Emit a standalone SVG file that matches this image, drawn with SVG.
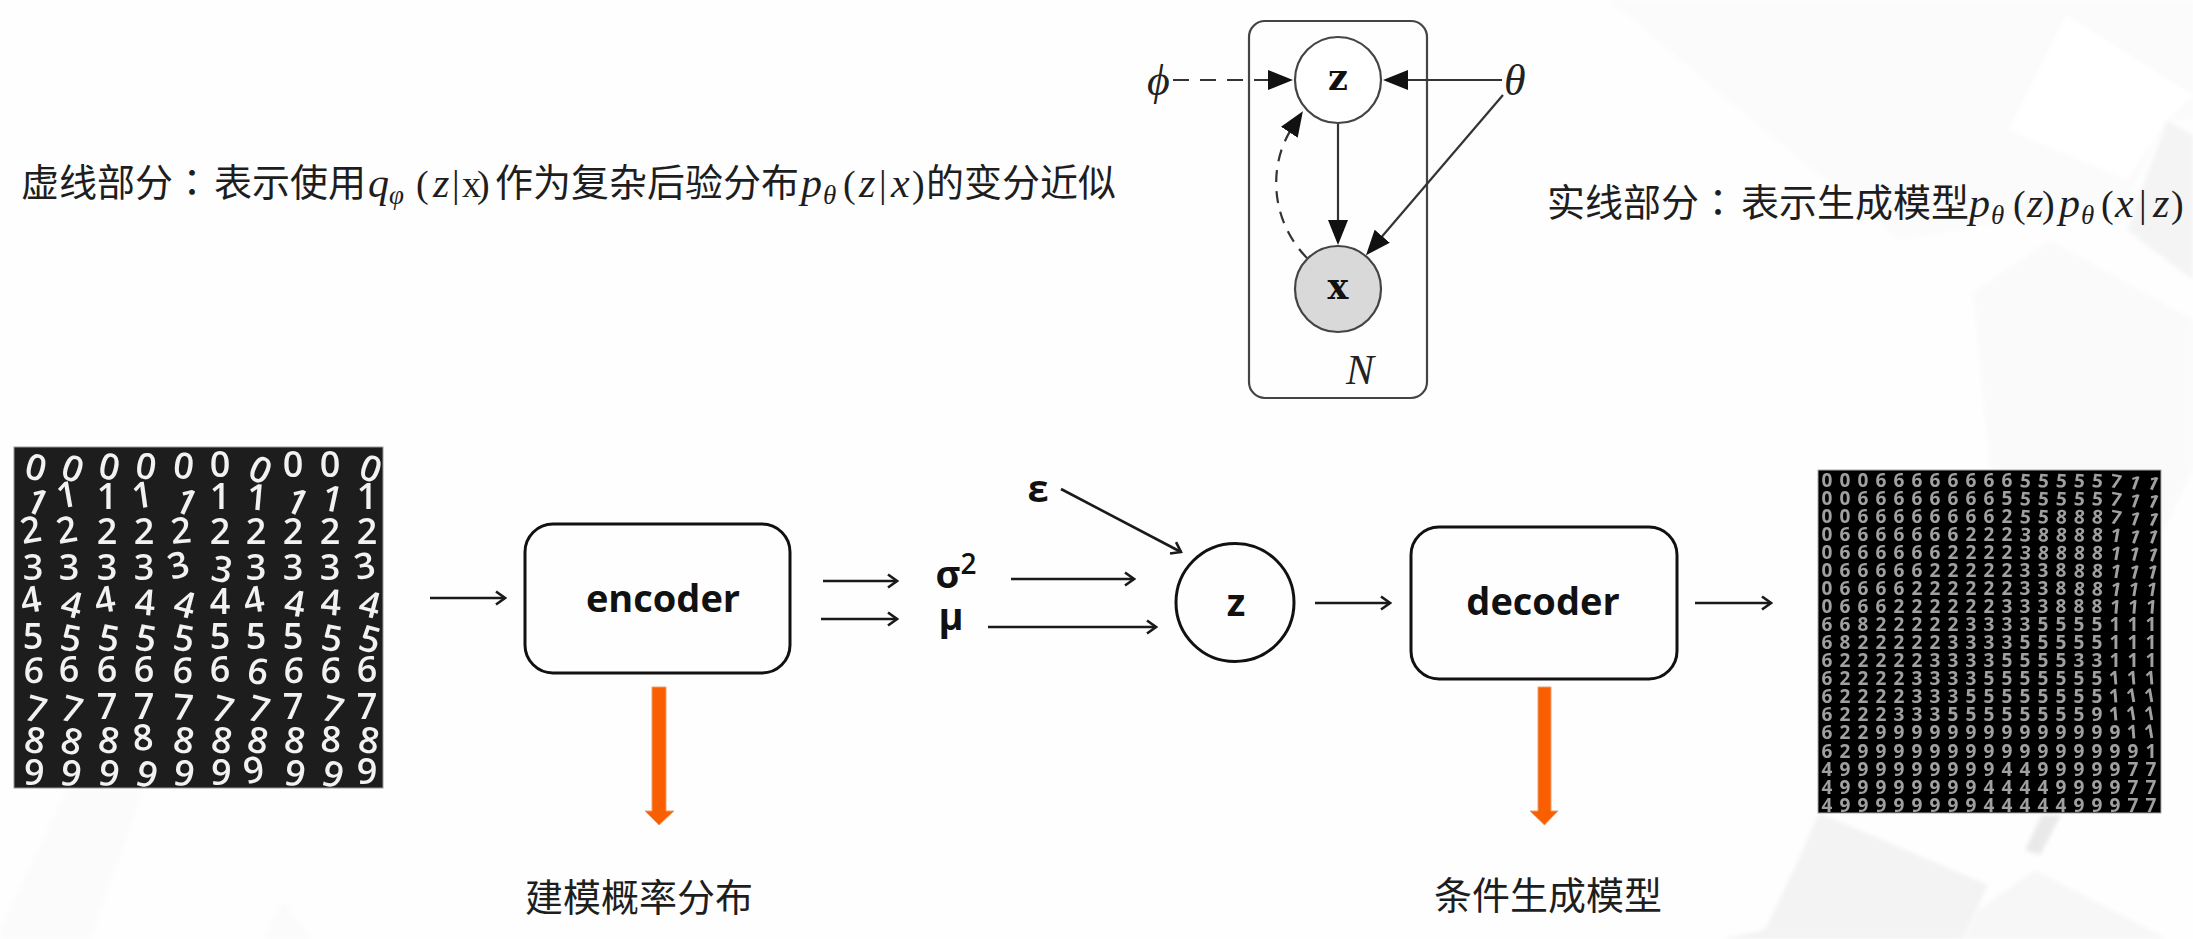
<svg xmlns="http://www.w3.org/2000/svg" width="2193" height="939" viewBox="0 0 2193 939">
<style>
.cn{font-family:"Noto Sans CJK SC","Noto Sans",sans-serif;font-size:38px;fill:#1e1e1e}
.tc{font-family:"Noto Sans CJK TC","Noto Sans",sans-serif}
.m{font-family:"Liberation Serif",serif;font-style:italic;font-size:42px;fill:#1e1e1e}
.mu{font-family:"Liberation Serif",serif;font-size:38px;fill:#1e1e1e}
.ms{font-family:"Liberation Serif",serif;font-style:italic;font-size:27px;fill:#1e1e1e}
.g{font-family:"Liberation Serif",serif;font-style:italic;fill:#222}
.gb{font-family:"DejaVu Serif",serif;font-weight:700;font-size:35px;fill:#111;text-anchor:middle}
.b{font-family:"Open Sans",sans-serif;font-weight:700;font-size:38px;fill:#111;text-anchor:middle}
.l{font-family:"Open Sans",sans-serif;font-weight:600;font-size:36px;fill:#f2f2f2;text-anchor:middle}
.r{font-family:"Open Sans",sans-serif;font-weight:700;font-size:19px;fill:#a0a0a0;letter-spacing:7.13px}
.box{fill:none;stroke:#111;stroke-width:3}
.pn{fill:#fff;stroke:#444;stroke-width:2.2}
.e{fill:none;stroke:#333;stroke-width:2.2}
.a{fill:none;stroke:#1a1a1a;stroke-width:2.6;marker-end:url(#ch)}
.or{fill:#f95f00;stroke:#e9a070;stroke-width:1}
</style>
<defs>
<marker id="tri" markerUnits="userSpaceOnUse" viewBox="0 0 25 20" markerWidth="25" markerHeight="20" refX="5" refY="10" orient="auto"><path d="M0 0L25 10L0 20Z" fill="#111"/></marker>
<marker id="ch" markerUnits="userSpaceOnUse" viewBox="-12 -8 14 16" markerWidth="14" markerHeight="16" refX="0" refY="0" orient="auto"><path d="M-9 -6.5L0 0L-9 6.5" fill="none" stroke="#1a1a1a" stroke-width="2.6"/></marker>
<filter id="soft" x="-2%" y="-2%" width="104%" height="104%"><feGaussianBlur stdDeviation="0.6"/></filter>
<filter id="bgsoft"><feGaussianBlur stdDeviation="2"/></filter>
</defs>
<rect width="2193" height="939" fill="#fefefe"/>
<g id="background" filter="url(#bgsoft)">
<polygon fill="#fbfbfb" points="1610,0 2193,0 2193,120 2167,120 2127,200 1900,240 1740,110"/>
<polygon fill="#ffffff" points="2066,15 2193,95 2167,120 2127,180 2008,130"/>
<polygon fill="#f4f4f4" points="2167,120 2193,135 2193,280 2127,230"/>
<polygon fill="#fafafa" points="1973,293 2050,240 2193,320 2193,470 2130,600 1990,470"/>
<polygon fill="#f3f3f3" points="1819,813 1988,885 1963,939 1721,939 1765,930 1797,863"/>
<polygon fill="#f7f7f7" points="2035,870 2167,939 1965,939 1978,910"/>
<polygon fill="#e9e9e9" points="2042,815 2061,815 2040,855 2025,850"/>
<polygon fill="#fbfbfb" points="0,930 67,790 143,790 90,939 0,939"/>
<polygon fill="#fbfbfb" points="283,902 263,939 313,939"/>
</g>
<g id="caption-left">
<text class="cn" x="21" y="196">虚线部分<tspan class="tc">&#xFF1A;</tspan><tspan x="214">表示使用</tspan></text>
<text class="m" x="368" y="197">q</text><text class="ms" x="389" y="204">φ</text>
<text class="mu" x="416" y="197">(</text><text class="m" x="433" y="197">z</text><text class="mu" x="452" y="197">|</text><text class="mu" x="462" y="197">x</text><text class="mu" x="477" y="197">)</text>
<text class="cn" x="495" y="196">作为复杂后验分布</text>
<text class="m" x="801" y="197">p</text><text class="ms" x="823" y="204">θ</text>
<text class="mu" x="843" y="197">(</text><text class="m" x="859" y="197">z</text><text class="mu" x="879" y="197">|</text><text class="m" x="891" y="197">x</text><text class="mu" x="912" y="197">)</text>
<text class="cn" x="926" y="196">的变分近似</text>
</g>
<g id="caption-right">
<text class="cn" x="1547" y="216">实线部分<tspan class="tc">&#xFF1A;</tspan><tspan x="1741">表示生成模型</tspan></text>
<text class="m" x="1969" y="217">p</text><text class="ms" x="1991" y="224">θ</text>
<text class="mu" x="2013" y="217">(</text><text class="m" x="2027" y="217">z</text><text class="mu" x="2042" y="217">)</text>
<text class="m" x="2059" y="217">p</text><text class="ms" x="2081" y="224">θ</text>
<text class="mu" x="2101" y="217">(</text><text class="m" x="2115" y="217">x</text><text class="mu" x="2139" y="217">|</text><text class="m" x="2153" y="217">z</text><text class="mu" x="2171" y="217">)</text>
</g>
<g id="plate"><rect x="1249" y="21" width="178" height="377" rx="16" fill="none" stroke="#444" stroke-width="2.2"/><text class="g" x="1346" y="384" font-size="42">N</text></g>
<g id="connectors">
<path class="e" d="M1173 80H1273" stroke-dasharray="16 11" marker-end="url(#tri)"/>
<path class="e" d="M1502 80H1403" marker-end="url(#tri)"/>
<path class="e" d="M1338 123V225" marker-end="url(#tri)"/>
<path class="e" d="M1503 95L1379 240" marker-end="url(#tri)"/>
<path class="e" d="M1307 258C1270 220 1268 165 1292 128" stroke-dasharray="12 9" marker-end="url(#tri)"/>
<path class="a" d="M430 598H505"/>
<path class="a" d="M823 581H897"/>
<path class="a" d="M821 619H897"/>
<path class="a" d="M1011 579H1134"/>
<path class="a" d="M988 627H1156"/>
<path class="a" d="M1061 489L1181 552"/>
<path class="a" d="M1315 603H1390"/>
<path class="a" d="M1695 603H1771"/>
<polygon class="or" points="652,687 666,687 666,811 674,811 659,825 645,811 652,811"/>
<polygon class="or" points="1538,687 1551,687 1551,811 1558,811 1544.5,825 1530,811 1538,811"/>
</g>
<g id="node-phi"><text class="g" x="1147" y="95" font-size="44">ϕ</text></g>
<g id="node-theta"><text class="g" x="1504" y="95" font-size="44">θ</text></g>
<g id="node-z-graph"><circle class="pn" cx="1338" cy="80" r="43"/><text class="gb" x="1338" y="90">z</text></g>
<g id="node-x-graph"><circle class="pn" cx="1338" cy="289" r="43" style="fill:#d9d9d9"/><text class="gb" x="1338" y="299">x</text></g>
<g id="node-encoder"><rect class="box" x="525" y="524" width="265" height="149" rx="28"/><text class="b" x="663" y="612">encoder</text></g>
<g id="node-decoder"><rect class="box" x="1411" y="527" width="266" height="152" rx="28"/><text class="b" x="1543" y="615">decoder</text></g>
<g id="node-z"><ellipse class="box" cx="1235" cy="602.5" rx="59" ry="59"/><text class="b" x="1236" y="616">z</text></g>
<g id="node-sigma"><text class="b" x="956" y="588">σ<tspan font-size="28" dy="-14" font-weight="600">2</tspan></text></g>
<g id="node-mu"><text class="b" x="951" y="630">μ</text></g>
<g id="node-eps"><text class="b" x="1038" y="502">ε</text></g>
<g id="label-encoder"><text class="cn" x="525" y="911">建模概率分布</text></g>
<g id="label-decoder"><text class="cn" x="1434" y="909">条件生成模型</text></g>
<g id="mnist-input">
<rect x="14" y="447" width="369" height="341" fill="#1d1d1d" stroke="#999" stroke-width="1"/>
<g filter="url(#soft)">
<text class="l" x="33 69 107 144 182 220 256 293 330 367" y="477" rotate="15 20 12 10 8 0 25 0 0 20">0000000000</text>
<text class="l" x="33 69 107 144 182 220 256 293 330 367" y="509" rotate="25 -10 0 -8 25 0 5 25 12 0">1111111111</text>
<text class="l" x="33 69 107 144 182 220 256 293 330 367" y="544" rotate="-10 -10 0 0 -5 0 0 0 0 0">2222222222</text>
<text class="l" x="33 69 107 144 182 220 256 293 330 367" y="580" rotate="0 0 0 0 -15 10 0 0 0 -10">3333333333</text>
<text class="l" x="33 69 107 144 182 220 256 293 330 367" y="614" rotate="-10 15 -10 5 15 0 -10 10 5 15">4444444444</text>
<text class="l" x="33 69 107 144 182 220 256 293 330 367" y="649" rotate="0 10 10 10 10 0 0 0 10 15">5555555555</text>
<text class="l" x="33 69 107 144 182 220 256 293 330 367" y="682" rotate="5 0 0 0 5 0 10 5 5 0">6666666666</text>
<text class="l" x="33 69 107 144 182 220 256 293 330 367" y="719" rotate="15 15 0 0 5 15 15 0 15 0">7777777777</text>
<text class="l" x="33 69 107 144 182 220 256 293 330 367" y="751" rotate="10 15 10 -5 10 10 10 10 5 10">8888888888</text>
<text class="l" x="33 69 107 144 182 220 256 293 330 367" y="784" rotate="5 10 10 15 10 5 -10 10 15 0">9999999999</text>
</g>
</g>
<g id="mnist-output">
<rect x="1818" y="470" width="343" height="343" fill="#000" stroke="#aaa" stroke-width="1"/>
<g filter="url(#soft)">
<text class="r" x="1821.6" y="487" rotate="0 0 0 0 0 0 0 0 0 0 0 5 5 5 5 5 10 20 25">0006666666655555711</text>
<text class="r" x="1821.6" y="505" rotate="0 0 0 0 0 0 0 0 0 0 0 5 5 5 5 5 10 20 25">0066666666555555711</text>
<text class="r" x="1821.6" y="523" rotate="0 0 0 0 0 0 0 0 0 0 0 5 5 5 5 5 10 20 25">0066666666255888711</text>
<text class="r" x="1821.6" y="541" rotate="0 0 0 0 0 0 0 0 0 0 0 5 5 5 5 5 10 20 20">0666666622238888111</text>
<text class="r" x="1821.6" y="559" rotate="0 0 0 0 0 0 0 0 0 0 0 5 5 5 5 5 10 15 20">0666666222238888111</text>
<text class="r" x="1821.6" y="577" rotate="0 0 0 0 0 0 0 0 0 0 0 0 0 0 5 5 10 15 15">0666662222233888111</text>
<text class="r" x="1821.6" y="595" rotate="0 0 0 0 0 0 0 0 0 0 0 0 0 0 5 5 10 10 10">0666622222233888111</text>
<text class="r" x="1821.6" y="613" rotate="0 0 0 0 0 0 0 0 0 0 0 0 0 0 0 0 5 5 5">0666222222333888111</text>
<text class="r" x="1821.6" y="631">6682222233335555111</text>
<text class="r" x="1821.6" y="649">6822222333355555111</text>
<text class="r" x="1821.6" y="667">6222223333555533111</text>
<text class="r" x="1821.6" y="685" rotate="0 0 0 0 0 0 0 0 0 0 0 0 0 0 0 0 -5 -5 -5">6222233335555555111</text>
<text class="r" x="1821.6" y="703" rotate="0 0 0 0 0 0 0 0 0 0 0 0 0 0 0 0 -5 -10 -10">6222233355555555111</text>
<text class="r" x="1821.6" y="721" rotate="0 0 0 0 0 0 0 0 0 0 0 0 0 0 0 0 -5 -10 -10">6222333555555559111</text>
<text class="r" x="1821.6" y="739" rotate="0 0 0 0 0 0 0 0 0 0 0 0 0 0 0 0 0 -5 -10">6229999999999999911</text>
<text class="r" x="1821.6" y="758">6299999999999999991</text>
<text class="r" x="1821.6" y="776">4999999999449999977</text>
<text class="r" x="1821.6" y="794">4999999994444999977</text>
<text class="r" x="1821.6" y="812">4999999994444499977</text>
</g>
</g>
</svg>
